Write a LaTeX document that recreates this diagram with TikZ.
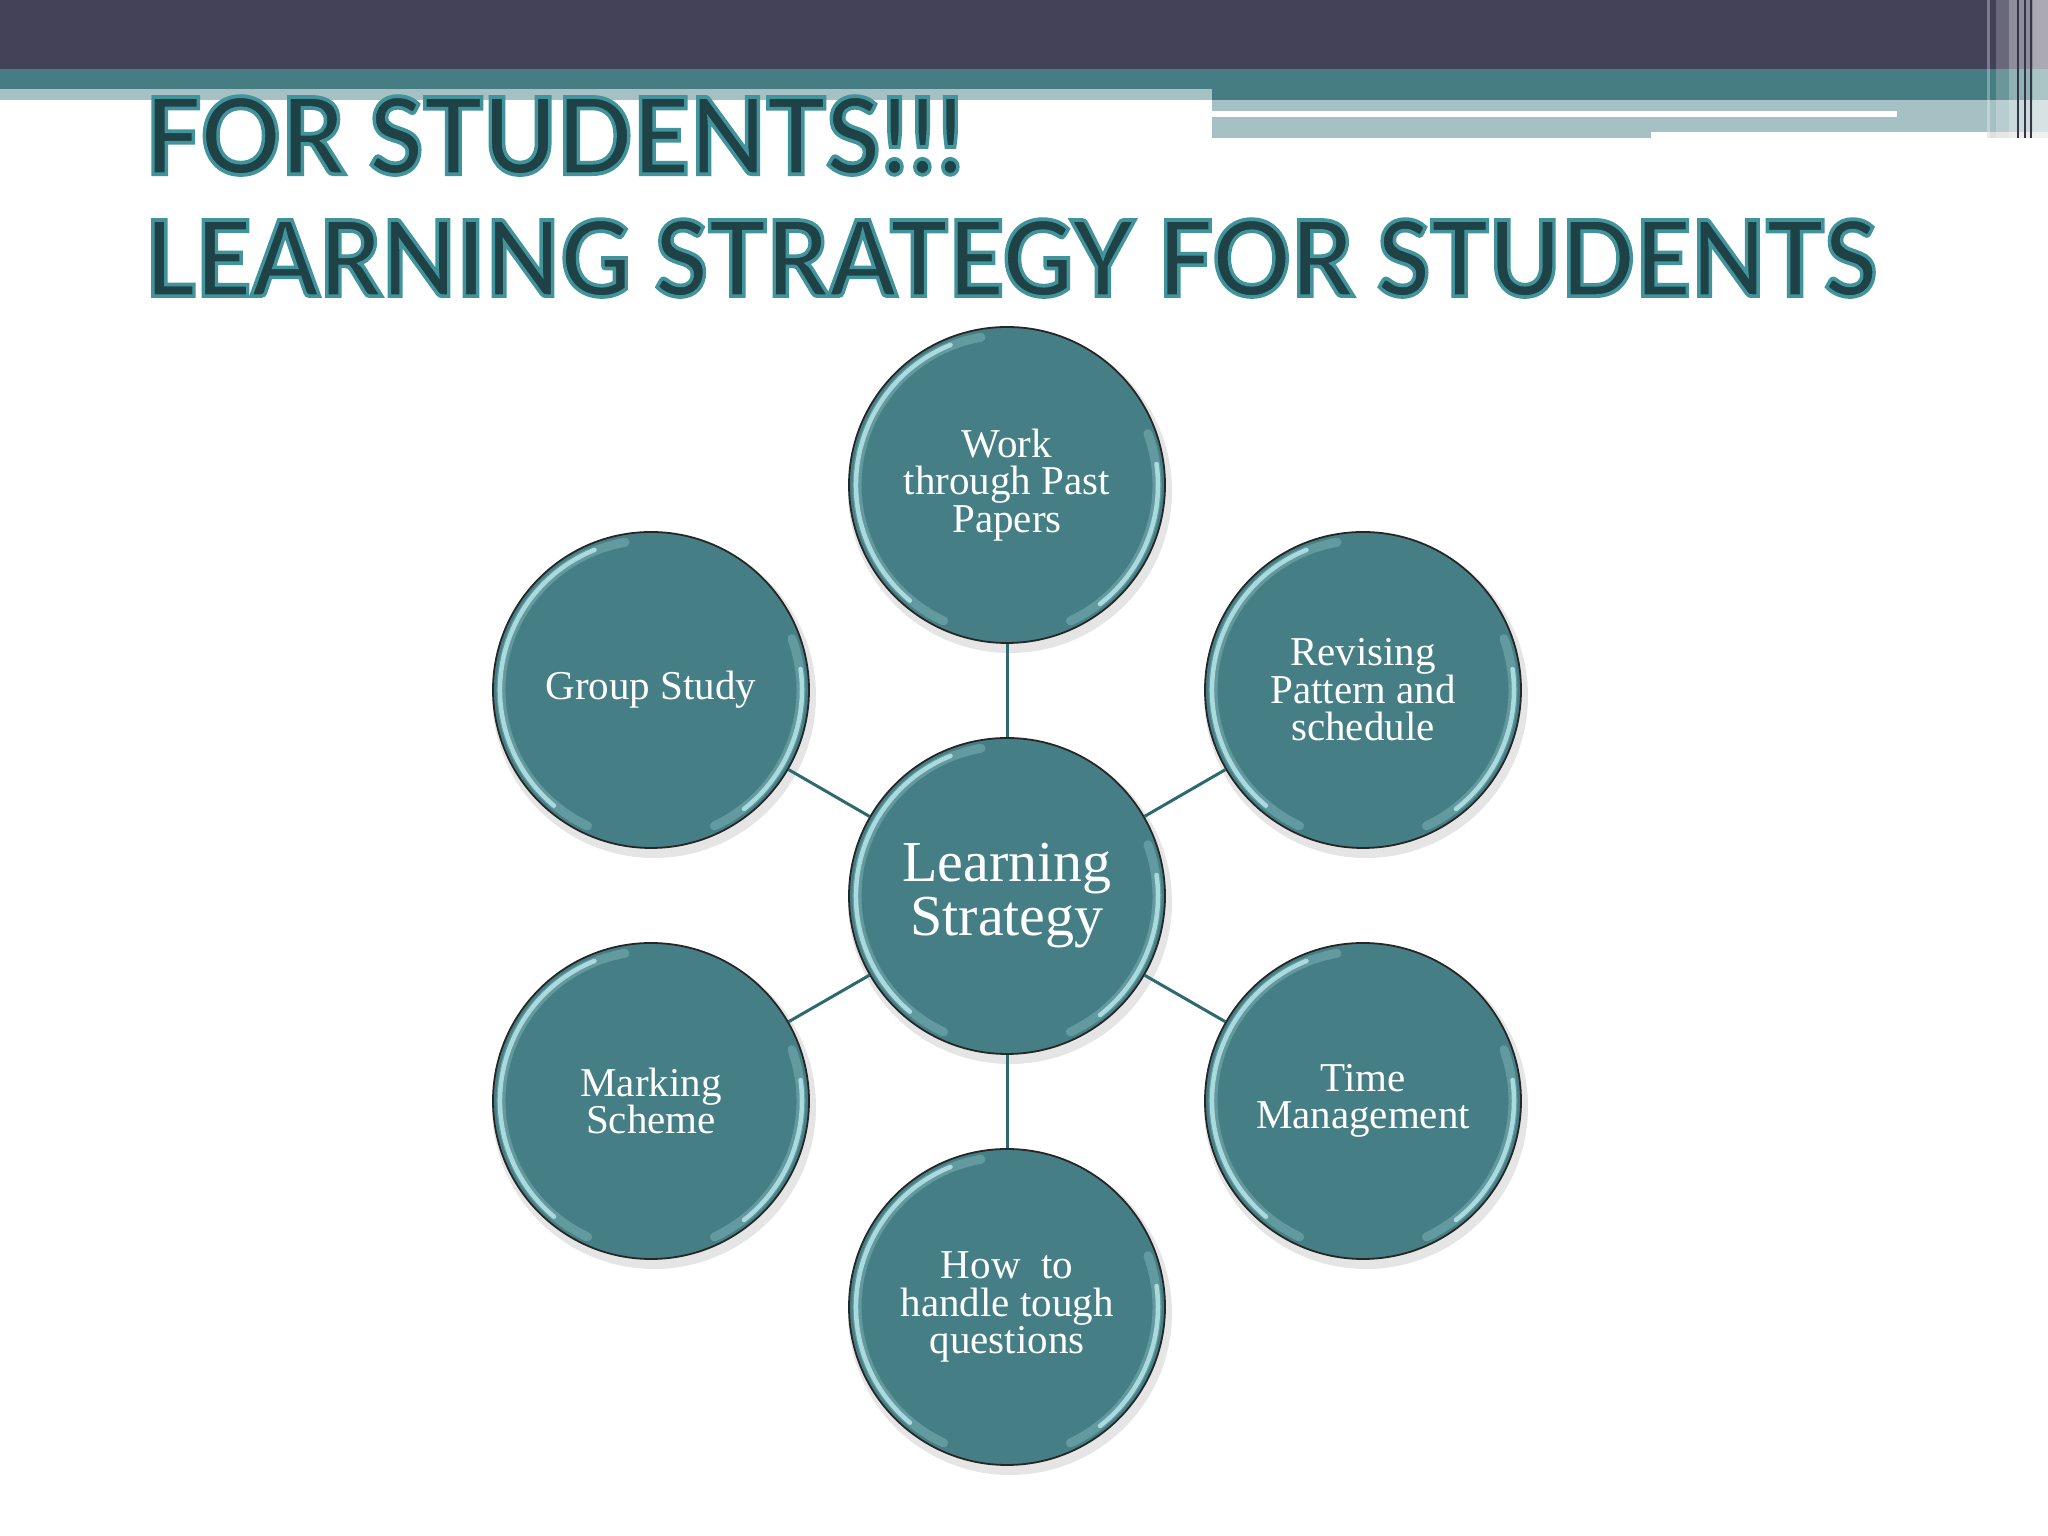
\documentclass[tikz,border=0pt]{standalone}
\usepackage{fontspec}
\setmainfont{Liberation Serif}
\newfontfamily\tfB{Lato}[BoldFeatures={FakeBold=3.5}]
\definecolor{darkbar}{HTML}{444259}
\definecolor{tealbar}{HTML}{467D83}
\definecolor{lightbar}{HTML}{A5C1C3}
\definecolor{bub}{HTML}{457F85}
\definecolor{conncol}{HTML}{2D6A70}
\definecolor{hlcol}{HTML}{BCEBEE}
\newcommand\ttlbox[3]{\resizebox{#1}{#2}{\fontsize{100}{100}\selectfont
  \special{pdf:bcolor [0.12 0.26 0.28] [0.26 0.58 0.61]}\tfB\bfseries #3\special{pdf:ecolor}}}
\tikzset{
  bubble/.style={circle, minimum size=316pt, inner sep=0pt, fill=bub, draw=black!85, line width=1.8pt,
    text=white, align=center, font=\fontsize{41}{37.5}\selectfont},
  hub/.style={bubble, font=\fontsize{58}{54}\selectfont},
  conn/.style={draw=conncol, line width=3pt},
  hl/.style={draw=hlcol, line width=4.5pt, line cap=round, opacity=0.8},
  hlsoft/.style={draw=hlcol, line width=9pt, line cap=round, opacity=0.25},
  ttl/.style={anchor=south west, inner sep=0pt, outer sep=0pt}
}
\begin{document}
\begin{tikzpicture}[x=1pt,y=1pt]
\useasboundingbox (0,0) rectangle (2048,1536);
\fill[white] (0,0) rectangle (2048,1536);
% header bands
\fill[darkbar] (0,1467) rectangle (2048,1536);
\fill[tealbar] (0,1447) rectangle (2048,1467);
\fill[tealbar] (1212,1436) rectangle (2048,1447);
\fill[lightbar] (0,1436) rectangle (1212,1447);
\fill[lightbar] (1212,1398) rectangle (1651,1436);
\fill[lightbar] (1651,1404) rectangle (1987,1436);
\fill[white] (1212,1419) rectangle (1897,1425);
% right stripes
\fill[lightbar] (1987,1404) rectangle (2048,1436);
\fill[black!12] (1987,1398) rectangle (2048,1404);
\fill[white,opacity=.3] (1987,1398) rectangle (1990,1536);
\fill[white,opacity=.2] (1996,1398) rectangle (2009,1536);
\fill[white,opacity=.4] (2009,1398) rectangle (2048,1536);
\fill[white,opacity=.25] (2033,1398) rectangle (2048,1536);
\fill[darkbar!80!black] (2017,1398) rectangle (2019,1536);
\fill[darkbar!80!black] (2024,1398) rectangle (2025.5,1536);
\fill[darkbar!80!black] (2030,1398) rectangle (2031.5,1536);
% title
\node[ttl] (title1) at (145,1361) {\ttlbox{819pt}{78pt}{FOR STUDENTS!!!}};
\node[ttl] (title2) at (145,1239) {\ttlbox{1732pt}{77pt}{LEARNING STRATEGY FOR STUDENTS}};
% positions
\coordinate (pc) at (1007,640);
\coordinate (pt) at (1007,1051);
\coordinate (pgs) at (651,846);
\coordinate (prv) at (1363,846);
\coordinate (pmk) at (651,435);
\coordinate (ptm) at (1363,435);
\coordinate (pht) at (1007,229);
% shadows
\foreach \p in {pc,pt,pgs,prv,pmk,ptm,pht}{
  \fill[black,opacity=.10] ([shift={(3,-6)}]\p) circle[radius=162];
}
% nodes
\node[hub] (c) at (pc) {Learning\\Strategy};
\node[bubble] (t) at (pt) {Work\\through Past\\Papers};
\node[bubble] (gs) at (pgs) {Group Study};
\node[bubble] (rv) at (prv) {Revising\\Pattern and\\schedule};
\node[bubble] (mk) at (pmk) {Marking\\Scheme};
\node[bubble] (tm) at (ptm) {Time\\Management};
\node[bubble] (ht) at (pht) {How~ to\\handle tough\\questions};
% connectors
\draw[conn] (c) -- (t);
\draw[conn] (c) -- (gs);
\draw[conn] (c) -- (rv);
\draw[conn] (c) -- (mk);
\draw[conn] (c) -- (tm);
\draw[conn] (c) -- (ht);
% bevel highlights
\foreach \n in {c,t,gs,rv,mk,tm,ht}{
  \draw[hlsoft] ([shift={(100:150)}]\n.center) arc[start angle=100, end angle=245, radius=150];
  \draw[hl] ([shift={(112:151)}]\n.center) arc[start angle=112, end angle=230, radius=151];
  \draw[hlsoft] ([shift={(-65:150)}]\n.center) arc[start angle=-65, end angle=20, radius=150];
  \draw[hl] ([shift={(-52:151)}]\n.center) arc[start angle=-52, end angle=8, radius=151];
}
\end{tikzpicture}
\end{document}
